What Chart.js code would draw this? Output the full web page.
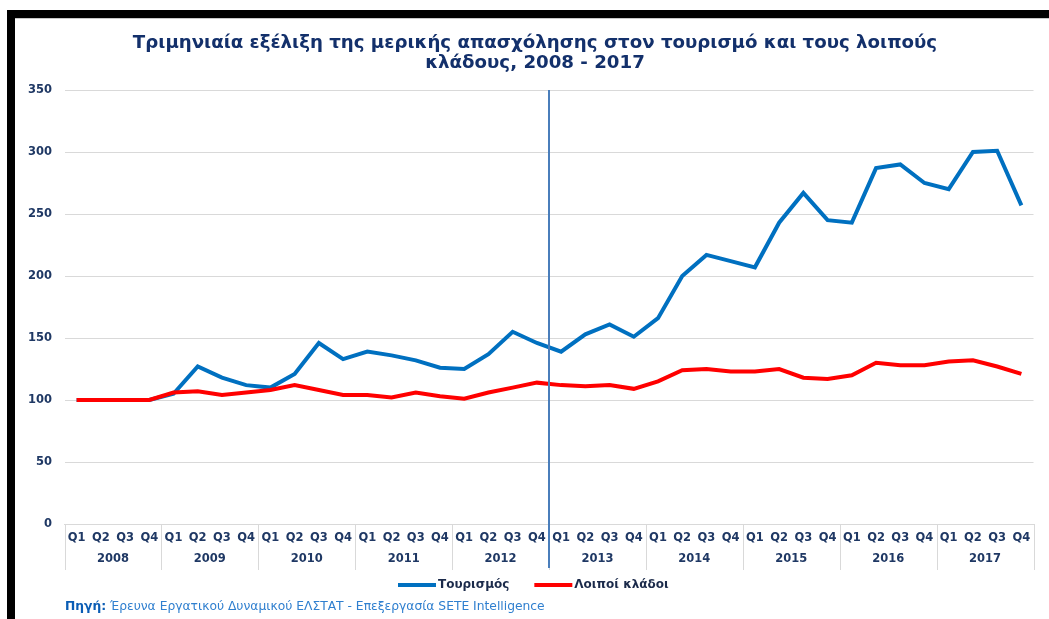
<!DOCTYPE html>
<html>
<head>
<meta charset="utf-8">
<script src="https://cdn.jsdelivr.net/npm/chart.js@4"></script>
<style>
  html, body { margin: 0; padding: 0; background: #fff; }
  #wrap { width: 1049px; height: 619px; position: relative; }
</style>
</head>
<body>
<div id="wrap"><canvas id="chart" width="1049" height="619"></canvas></div>
<script>
// Δεδομένα διαγράμματος
const years = ['2008', '2009', '2010', '2011', '2012', '2013', '2014', '2015', '2016', '2017'];
const quarters = ['Q1', 'Q2', 'Q3', 'Q4'];
const tourism = [
    100, 100, 100, 100,
    105, 127, 118, 112,
    110, 121, 146, 133,
    139, 136, 132, 126,
    125, 137, 155, 146,
    139, 153, 161, 151,
    166, 200, 217, 212,
    207, 243, 267, 245,
    243, 287, 290, 275,
    270, 300, 301, 257
];
const otherSectors = [
    100, 100, 100, 100,
    106, 107, 104, 106,
    108, 112, 108, 104,
    104, 102, 106, 103,
    101, 106, 110, 114,
    112, 111, 112, 109,
    115, 124, 125, 123,
    123, 125, 118, 117,
    120, 130, 128, 128,
    131, 132, 127, 121
];
const yTicks = [0, 50, 100, 150, 200, 250, 300, 350];
const seriesNames = ['Τουρισμός', 'Λοιποί κλάδοι'];
const markerAfter = '2012';   // κάθετη γραμμή μετά το Q4 του 2012

const titleLines = [
    'Τριμηνιαία εξέλιξη της μερικής απασχόλησης στον τουρισμό και τους λοιπούς',
    'κλάδους, 2008 - 2017'
];
const sourceLabel = 'Πηγή:';
const sourceText = ' Έρευνα Εργατικού Δυναμικού ΕΛΣΤΑΤ - Επεξεργασία SETE Intelligence';

// Ετικέτες άξονα x
const labels = [];
years.forEach(y => quarters.forEach(q => labels.push(q + ' ' + y)));

const NAVY = '#1F3864';
const FONT = "'DejaVu Sans', Verdana, sans-serif";

// Plugin: πλαίσιο, τίτλος, έτη, κάθετη γραμμή, υπόμνημα, πηγή
const decorPlugin = {
    id: 'decor',
    beforeDraw(chart) {
        const ctx = chart.ctx;
        ctx.save();
        ctx.fillStyle = '#fff';
        ctx.fillRect(0, 0, chart.width, chart.height);
        ctx.restore();
    },
    afterDraw(chart) {
        const ctx = chart.ctx;
        const x = chart.scales.x;
        const area = chart.chartArea;
        ctx.save();

        // μαύρο πλαίσιο πάνω και αριστερά
        ctx.fillStyle = '#000';
        ctx.fillRect(7, 10, chart.width - 7, 8);
        ctx.fillRect(7, 10, 8, chart.height - 10);
        ctx.fillStyle = '#c8c8c8';
        ctx.fillRect(15, 18, chart.width - 15, 1);

        // τίτλος
        ctx.fillStyle = '#13306B';
        ctx.font = 'bold 18.2px ' + FONT;
        ctx.textAlign = 'center';
        ctx.textBaseline = 'middle';
        titleLines.forEach((t, i) => ctx.fillText(t, 535, 43 + i * 20));

        // διαχωριστικά ετών και ετικέτες ετών
        const half = (x.getPixelForValue(1) - x.getPixelForValue(0)) / 2;
        ctx.strokeStyle = '#D9D9D9';
        ctx.lineWidth = 1;
        for (let k = 0; k <= years.length; k++) {
            const px = Math.round(k < years.length ? x.getPixelForValue(k * 4) - half
                                                   : x.getPixelForValue(labels.length - 1) + half) + 0.5;
            ctx.beginPath();
            ctx.moveTo(px, area.bottom);
            ctx.lineTo(px, area.bottom + 46);
            ctx.stroke();
        }
        ctx.fillStyle = NAVY;
        ctx.font = 'bold 11.5px ' + FONT;
        years.forEach((y, k) => {
            const cx = (x.getPixelForValue(k * 4) + x.getPixelForValue(k * 4 + 3)) / 2;
            ctx.fillText(y, cx, area.bottom + 35);
        });

        // κάθετη γραμμή
        const yi = years.indexOf(markerAfter);
        const mx = (x.getPixelForValue(yi * 4 + 3) + x.getPixelForValue(yi * 4 + 4)) / 2;
        ctx.strokeStyle = '#4A7EBB';
        ctx.lineWidth = 2;
        ctx.beginPath();
        ctx.moveTo(mx, area.top);
        ctx.lineTo(mx, area.bottom + 44);
        ctx.stroke();

        // υπόμνημα
        let lx = 398;
        const ly = 585;
        ctx.font = 'bold 12px ' + FONT;
        ctx.textAlign = 'left';
        chart.data.datasets.forEach(ds => {
            ctx.strokeStyle = ds.borderColor;
            ctx.lineWidth = 4;
            ctx.beginPath();
            ctx.moveTo(lx, ly);
            ctx.lineTo(lx + 38, ly);
            ctx.stroke();
            ctx.fillStyle = '#1B2A4A';
            ctx.fillText(ds.label, lx + 40, ly);
            lx += 40 + ctx.measureText(ds.label).width + 25;
        });

        // πηγή
        ctx.font = 'bold 12.3px ' + FONT;
        ctx.fillStyle = '#0B5DB5';
        ctx.fillText(sourceLabel, 65, 607);
        const w = ctx.measureText(sourceLabel).width;
        ctx.font = '12.3px ' + FONT;
        ctx.fillStyle = '#2F7FCF';
        ctx.fillText(sourceText, 65 + w, 607);

        ctx.restore();
    }
};

const ctx = document.getElementById('chart').getContext('2d');
new Chart(ctx, {
    type: 'line',
    data: {
        labels: labels,
        datasets: [{
            label: seriesNames[0],
            data: tourism,
            borderColor: '#0070C0',
            borderWidth: 4,
            pointRadius: 0,
            tension: 0,
            order: 1
        }, {
            label: seriesNames[1],
            data: otherSectors,
            borderColor: '#FF0000',
            borderWidth: 4,
            pointRadius: 0,
            tension: 0,
            order: 0
        }]
    },
    options: {
        responsive: false,
        animation: false,
        layout: {
            padding: { top: 90, bottom: 47, left: 0, right: 15.5 }
        },
        plugins: {
            legend: { display: false },
            title: { display: false },
            tooltip: { enabled: false }
        },
        scales: {
            x: {
                offset: true,
                grid: { display: false, drawTicks: false },
                border: { display: true, color: '#D9D9D9', width: 1 },
                ticks: {
                    autoSkip: false,
                    maxRotation: 0,
                    padding: 7,
                    color: NAVY,
                    font: { family: FONT, size: 11.5, weight: 'bold' },
                    callback: function (v, i) { return labels[i].split(' ')[0]; }
                },
                afterFit(scale) { scale.height = 48; }
            },
            y: {
                min: yTicks[0],
                max: yTicks[yTicks.length - 1],
                afterBuildTicks(scale) { scale.ticks = yTicks.map(v => ({ value: v })); },
                grid: { color: '#D9D9D9', drawTicks: false },
                border: { display: false },
                ticks: {
                    padding: 12.5,
                    color: NAVY,
                    font: { family: FONT, size: 11.5, weight: 'bold' }
                },
                afterFit(scale) { scale.width = 64.5; }
            }
        }
    },
    plugins: [decorPlugin]
});
</script>
</body>
</html>
